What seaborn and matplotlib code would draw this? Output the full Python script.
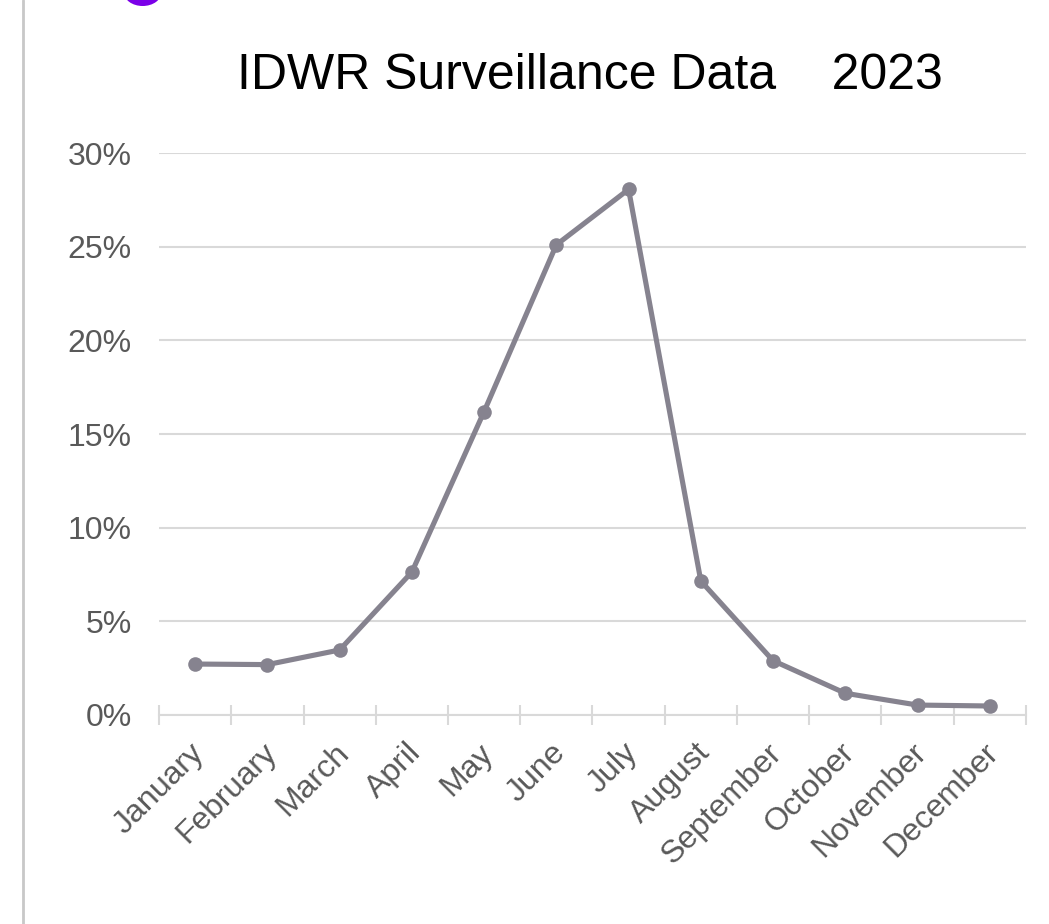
import numpy as np
import pandas as pd
import matplotlib
matplotlib.use("Agg")
import matplotlib.pyplot as plt
from matplotlib.patches import Ellipse
from matplotlib.lines import Line2D
from matplotlib.ticker import FixedLocator, FuncFormatter
from matplotlib.transforms import ScaledTranslation
import seaborn as sns

months = ["January", "February", "March", "April", "May", "June",
          "July", "August", "September", "October", "November", "December"]
positivity = [2.72, 2.69, 3.47, 7.63, 16.2, 25.1,
              28.06, 7.15, 2.90, 1.16, 0.53, 0.48]
y_ticks = [0, 5, 10, 15, 20, 25, 30]
title_text = "IDWR Surveillance Data    2023"

sns.set_theme(style="white")
plt.rcParams["font.family"] = ["Liberation Sans", "DejaVu Sans"]

df = pd.DataFrame({"month": months, "pct": positivity})

fig = plt.figure(figsize=(10.49, 9.24), dpi=100)
ax = fig.add_axes([0.1516, 0.2262, 0.8264, 0.6082])

line_color = "#86838f"
sns.lineplot(data=df, x="month", y="pct", sort=False, ax=ax,
             color=line_color, linewidth=3.7, marker="o", markersize=10.5,
             markeredgewidth=0, clip_on=False, zorder=5)

ax.set_xlim(-0.5, len(months) - 0.5)
ax.set_ylim(0, 30)
ax.set_yticks(y_ticks)
ax.yaxis.set_major_formatter(FuncFormatter(lambda v, _: f"{v:.0f}%"))
ax.grid(axis="y", color="#d9d9d9", linewidth=1.5)
ax.set_axisbelow(True)
for side in ["top", "right", "left"]:
    ax.spines[side].set_visible(False)
ax.spines["bottom"].set_color("#d9d9d9")
ax.spines["bottom"].set_linewidth(1.5)

ax.set_xticks(range(len(months)))
ax.set_xticklabels(months, rotation=45, ha="right", rotation_mode="anchor")
ax.xaxis.set_minor_locator(FixedLocator(np.arange(-0.5, len(months), 1.0)))
ax.tick_params(axis="x", which="major", length=0, pad=20,
               labelsize=23, labelcolor="#595959")
ax.tick_params(axis="x", which="minor", direction="inout", length=14,
               width=1.5, color="#d9d9d9", bottom=True)
ax.tick_params(axis="y", length=0, pad=19.5, labelsize=23, labelcolor="#595959")
ax.set_xlabel("")
ax.set_ylabel("")

# nudge the slanted month labels slightly left and up
shift = ScaledTranslation(-6 / 100, 5 / 100, fig.dpi_scale_trans)
for lbl in ax.get_xticklabels():
    lbl.set_transform(lbl.get_transform() + shift)

fig.text(0.5625, 0.9178, title_text, ha="center", va="center",
         fontsize=36, color="#000000")

# page frame on the left and the header accent
fig.add_artist(Line2D([0.0219, 0.0219], [0, 1], transform=fig.transFigure,
                      color="#c8c8c8", linewidth=2.0))
fig.add_artist(Ellipse((0.136, 1.0085), 0.036, 0.030, transform=fig.transFigure,
                       facecolor="#7b00e8", edgecolor="none", clip_on=False))

fig.savefig("out.png", dpi=100, facecolor="white")
